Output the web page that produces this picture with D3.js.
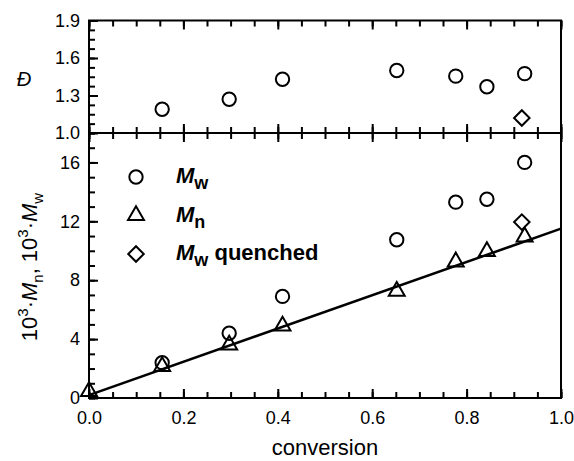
<!DOCTYPE html>
<html>
<head>
<meta charset="UTF-8">
<script src="https://cdn.jsdelivr.net/npm/d3@7"></script>
<style>
  body { margin: 0; background: #fff; }
  text { font-family: "Liberation Sans", Arial, sans-serif; fill: #000; }
</style>
</head>
<body>
<svg width="574" height="461"></svg>
<script>
// data
var conv   = [0.155, 0.297, 0.41, 0.652, 0.777, 0.843, 0.923];
var disp   = [1.19, 1.27, 1.43, 1.50, 1.455, 1.37, 1.475];
var mw     = [2.4, 4.4, 6.9, 10.75, 13.3, 13.5, 16.0];
var convMn = [0.0, 0.155, 0.297, 0.41, 0.652, 0.777, 0.843, 0.923];
var mn     = [0.45, 2.15, 3.6, 4.9, 7.25, 9.25, 9.95, 10.95];
var quenchConv = [0.917];
var quenchMw   = [11.95];
var quenchDisp = [1.12];
var fitLine = [[0, 0.2], [1.0, 11.5]];

var svg = d3.select("svg");
var x = d3.scaleLinear().domain([0, 1]).range([89, 561]);
var yTop = d3.scaleLinear().domain([1.0, 1.9]).range([133, 20.5]);
var yBot = d3.scaleLinear().domain([0, 18]).range([398, 133]);

var fs = 18;

// ticks helper: major + minor, pointing inward
function ticks(axisFn, scale, major, minor, len, pos, withLabels, fmt) {
  var gMinor = svg.append("g").attr("transform", pos)
    .call(axisFn(scale).tickValues(minor).tickSize(len[1]).tickFormat(""));
  var gMajor = svg.append("g").attr("transform", pos)
    .call(axisFn(scale).tickValues(major).tickSize(len[0]).tickSizeOuter(0)
      .tickPadding(len[2] || 3)
      .tickFormat(withLabels ? fmt : ""));
  [gMinor, gMajor].forEach(function(g) {
    g.select(".domain").remove();
    g.selectAll("line").attr("stroke", "#000").attr("stroke-width", 2);
    g.selectAll("text").style("font-size", fs + "px").style("font-family", "Liberation Sans, Arial, sans-serif");
  });
  return gMajor;
}

var xMajor = d3.range(0, 1.0001, 0.2);
var xMinor = d3.range(0, 1.0001, 0.05);

// bottom axis of lower panel
ticks(d3.axisBottom, x, xMajor, xMinor, [-9, -6, 13], "translate(0,398)", true, d3.format(".1f"));
// shared line between the panels, ticks both ways
ticks(d3.axisBottom, x, xMajor, xMinor, [9, 6], "translate(0,133)", false);
ticks(d3.axisBottom, x, xMajor, xMinor, [-9, -6], "translate(0,133)", false);
// top axis of upper panel
ticks(d3.axisBottom, x, xMajor, xMinor, [9, 6], "translate(0,20.5)", false);

// left axes
ticks(d3.axisLeft, yTop, [1.0, 1.3, 1.6, 1.9], d3.range(1.0, 1.9001, 0.075), [-9, -6, 9], "translate(89,0)", true, d3.format(".1f"));
ticks(d3.axisLeft, yBot, [0, 4, 8, 12, 16], d3.range(0, 18.001, 1), [-9, -6, 9], "translate(89,0)", true, d3.format("d"));

// frame
svg.append("rect").attr("x", x(0)).attr("y", yTop(1.9))
  .attr("width", x(1) - x(0)).attr("height", yBot(0) - yTop(1.9))
  .attr("fill", "none").attr("stroke", "#000").attr("stroke-width", 2);
svg.append("line").attr("x1", x(0)).attr("x2", x(1)).attr("y1", yTop(1.0)).attr("y2", yTop(1.0))
  .attr("stroke", "#000").attr("stroke-width", 2);

// fit line
svg.append("path")
  .attr("d", d3.line().x(function(d){ return x(d[0]); }).y(function(d){ return yBot(d[1]); })(fitLine))
  .attr("stroke", "#000").attr("stroke-width", 2.5).attr("fill", "none");

var sym = {
  circle: d3.symbol().type(d3.symbolCircle).size(140),
  triangle: d3.symbol().type(d3.symbolTriangle).size(110),
  diamond: d3.symbol().type(d3.symbolSquare).size(120)
};
function marks(xs, ys, yScale, kind) {
  svg.append("g").selectAll("path").data(xs).enter().append("path")
    .attr("d", sym[kind]())
    .attr("transform", function(d, i) {
      var t = "translate(" + x(d) + "," + yScale(ys[i]) + ")";
      return kind === "diamond" ? t + " rotate(45)" : t;
    })
    .attr("fill", "none").attr("stroke", "#000").attr("stroke-width", 2);
}

marks(conv, disp, yTop, "circle");
marks(quenchConv, quenchDisp, yTop, "diamond");
marks(conv, mw, yBot, "circle");
marks(convMn, mn, yBot, "triangle");
marks(quenchConv, quenchMw, yBot, "diamond");

// legend
var legend = [
  {kind: "circle", sub: "w", rest: ""},
  {kind: "triangle", sub: "n", rest: ""},
  {kind: "diamond", sub: "w", rest: " quenched"}
];
legend.forEach(function(d, i) {
  var ly = 177 + i * 38.5;
  svg.append("path").attr("d", sym[d.kind]())
    .attr("transform", "translate(136," + ly + ")" + (d.kind === "diamond" ? " rotate(45)" : ""))
    .attr("fill", "none").attr("stroke", "#000").attr("stroke-width", 2);
  var t = svg.append("text").attr("x", 176).attr("y", ly + 6)
    .style("font-size", "22px").style("font-weight", "bold");
  t.append("tspan").style("font-style", "italic").text("M");
  t.append("tspan").attr("dy", 6).style("font-size", "18px").text(d.sub);
  if (d.rest) t.append("tspan").attr("dy", -6).style("font-size", "22px").text(d.rest);
});

// axis titles
svg.append("text").attr("x", x(0.5)).attr("y", 455).attr("text-anchor", "middle")
  .style("font-size", "22px").text("conversion");

svg.append("text").attr("x", 24).attr("y", 86).attr("text-anchor", "middle")
  .style("font-size", "20px").style("font-style", "italic").text("Đ");

var yl = svg.append("text").attr("text-anchor", "middle")
  .attr("transform", "translate(37,267) rotate(-90)")
  .style("font-size", "22px");
yl.append("tspan").text("10");
yl.append("tspan").attr("dy", -9).style("font-size", "15px").text("3");
yl.append("tspan").attr("dy", 9).text("·");
yl.append("tspan").style("font-style", "italic").text("M");
yl.append("tspan").attr("dy", 6).style("font-size", "15px").text("n");
yl.append("tspan").attr("dy", -6).text(", 10");
yl.append("tspan").attr("dy", -9).style("font-size", "15px").text("3");
yl.append("tspan").attr("dy", 9).text("·");
yl.append("tspan").style("font-style", "italic").text("M");
yl.append("tspan").attr("dy", 6).style("font-size", "15px").text("w");
</script>
</body>
</html>
